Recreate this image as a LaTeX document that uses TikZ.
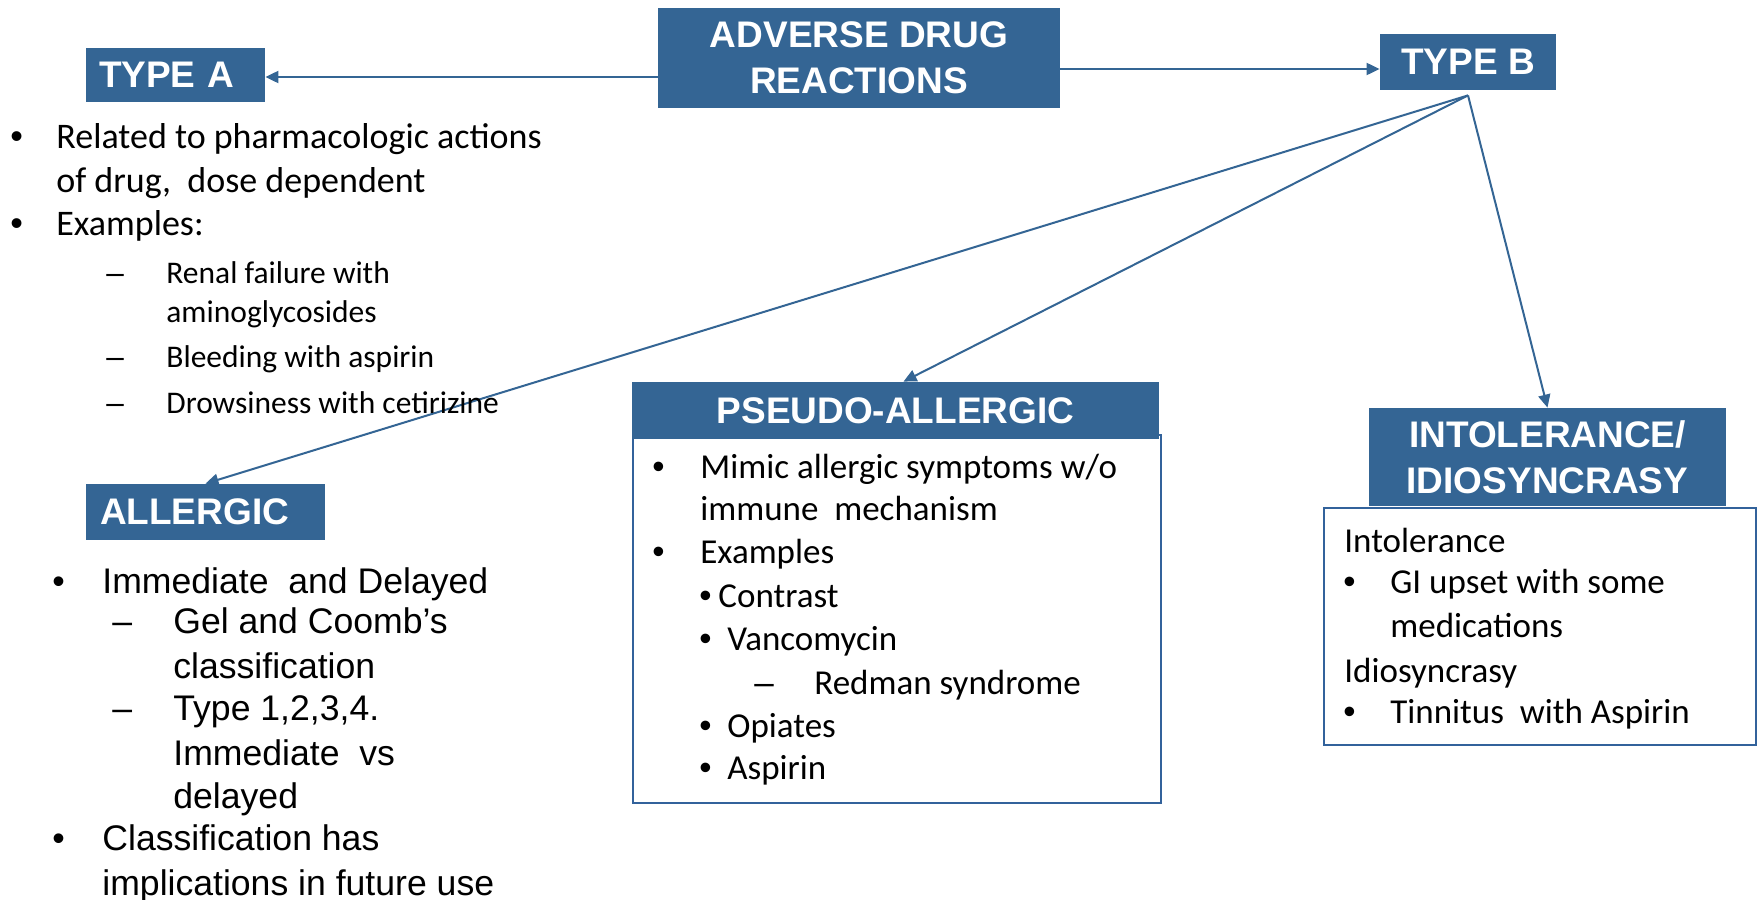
\documentclass[tikz,border=0pt]{standalone}
\usepackage{fontspec}
\setmainfont{Carlito}
\newfontfamily\arialf{Liberation Sans}
\usetikzlibrary{arrows.meta}
\definecolor{hblue}{RGB}{52,101,148}
\definecolor{lblue}{RGB}{50,98,155}
\newcommand{\mybul}{{\arialf •}}
\newcommand{\mydash}{{\arialf –}}
\tikzset{
  hdr/.style={fill=hblue, text=white, inner sep=0pt, align=center,
    font=\arialf\bfseries\fontsize{18.5}{23}\selectfont},
  cbox/.style={draw=lblue, line width=1pt, fill=white, inner sep=0pt},
  conn/.style={draw=hblue, line width=1pt, -{Triangle[length=6.5pt,width=6pt]}},
  ln/.style={anchor=base west, inner sep=0pt, text=black},
  ca/.style={ln, font=\fontsize{18}{18}\selectfont},
  cs/.style={ln, font=\fontsize{15.75}{15.75}\selectfont},
  al/.style={ln, font=\arialf\fontsize{17.8}{17.8}\selectfont},
  pl/.style={ln, font=\fontsize{17.5}{17.5}\selectfont},
}
\begin{document}
\begin{tikzpicture}[x=0.5pt,y=-0.5pt]
\useasboundingbox (0,0) rectangle (1758,900);
% content boxes
\node[cbox, minimum width=264pt, minimum height=184pt] (pbox) at (897,619) {};
\node[cbox, minimum width=216pt, minimum height=118.5pt] (ibox) at (1540,626.5) {};
% headers
\node[hdr, minimum width=201pt, minimum height=50pt] (adr) at (859,58) {ADVERSE DRUG\\REACTIONS};
\node[hdr, inner xsep=6.5pt, text width=76.5pt, align=left, minimum height=27pt] (typea) at (175.5,75) {TYPE A};
\node[hdr, minimum width=88pt, minimum height=28pt] (typeb) at (1468,62) {TYPE B};
\node[hdr, inner xsep=7pt, text width=105.5pt, align=left, minimum height=28pt] (allergic) at (205.5,512) {ALLERGIC};
\node[hdr, minimum width=263.5pt, minimum height=28.5pt] (pseudo) at (895.5,410.5) {PSEUDO-ALLERGIC};
\node[hdr, minimum width=178.5pt, minimum height=49pt] (intol) at (1547.5,457) {INTOLERANCE/\\IDIOSYNCRASY};
% connectors
\draw[conn] ([yshift=-1pt]adr.west |- typea.east) -- ([yshift=-1pt]typea.east);
\coordinate (tbw) at ([yshift=-3.5pt]typeb.west);
\draw[conn] (adr.east |- tbw) -- (tbw);
\coordinate (fan) at ([yshift=-2.5pt]typeb.south);
\draw[conn] (fan) -- (allergic.north);
\draw[conn] (fan) -- ([xshift=4pt]pseudo.north);
\draw[conn] (fan) -- (intol.north);
% TYPE A list
\node[ca] (ta1b) at (10,148) {\mybul};
\node[ca] (ta1) at (56,148) {Related to pharmacologic actions};
\node[ca] (ta2) at (56,192) {of drug,\ \ dose dependent};
\node[ca] (ta3b) at (10,235) {\mybul};
\node[ca] (ta3) at (56,235) {Examples:};
\node[cs] (ta4d) at (106,283) {\mydash};
\node[cs] (ta4) at (166,283) {Renal failure with};
\node[cs] (ta5) at (166,322) {aminoglycosides};
\node[cs] (ta6d) at (106,367) {\mydash};
\node[cs] (ta6) at (166,367) {Bleeding with aspirin};
\node[cs] (ta7d) at (106,413) {\mydash};
\node[cs] (ta7) at (166,413) {Drowsiness with cetirizine};
% ALLERGIC list
\node[al] (al1b) at (52,593) {•};
\node[al] (al1) at (102,593) {Immediate\ \ and Delayed};
\node[al] (al2d) at (112,633) {–};
\node[al] (al2) at (173,633) {Gel and Coomb’s};
\node[al] (al3) at (173,678) {classification};
\node[al] (al4d) at (112,720) {–};
\node[al] (al4) at (173,720) {Type 1,2,3,4.};
\node[al] (al5) at (173,765) {Immediate\ \ vs};
\node[al] (al6) at (173,808) {delayed};
\node[al] (al7b) at (52,850) {•};
\node[al] (al7) at (102,850) {Classification has};
\node[al] (al8) at (102,895) {implications in future use};
% PSEUDO list
\node[pl] (ps1b) at (652,478) {\mybul};
\node[pl] (ps1) at (700,478) {Mimic allergic symptoms w/o};
\node[pl] (ps2) at (700,520) {immune\ \ mechanism};
\node[pl] (ps3b) at (652,563) {\mybul};
\node[pl] (ps3) at (700,563) {Examples};
\node[pl] (ps4b) at (699,607) {\mybul};
\node[pl] (ps4) at (718,607) {Contrast};
\node[pl] (ps5b) at (699,650) {\mybul};
\node[pl] (ps5) at (727,650) {Vancomycin};
\node[pl] (ps6d) at (754,694) {\mydash};
\node[pl] (ps6) at (814,694) {Redman syndrome};
\node[pl] (ps7b) at (699,737) {\mybul};
\node[pl] (ps7) at (727,737) {Opiates};
\node[pl] (ps8b) at (699,779) {\mybul};
\node[pl] (ps8) at (727,779) {Aspirin};
% INTOL list
\node[pl] (in1) at (1344,552) {Intolerance};
\node[pl] (in2b) at (1343,593) {\mybul};
\node[pl] (in2) at (1390,593) {GI upset with some};
\node[pl] (in3) at (1390,637) {medications};
\node[pl] (in4) at (1344,682) {Idiosyncrasy};
\node[pl] (in5b) at (1343,723) {\mybul};
\node[pl] (in5) at (1390,723) {Tinnitus\ \ with Aspirin};
\end{tikzpicture}
\end{document}
